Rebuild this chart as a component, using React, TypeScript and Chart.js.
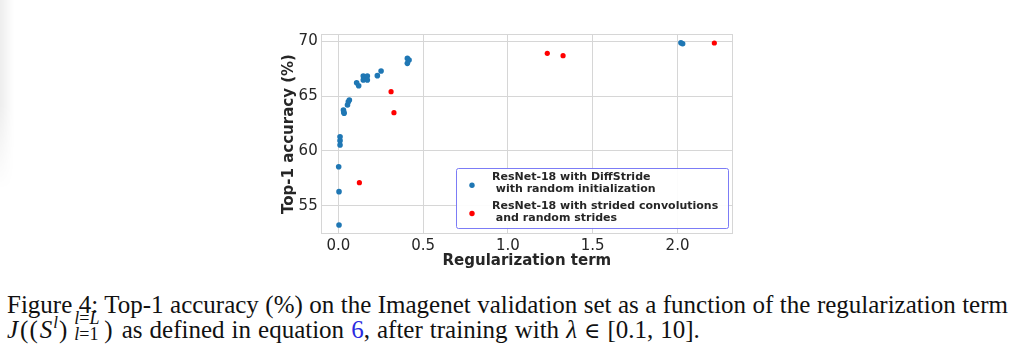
import React, { useEffect, useRef } from 'react';
import { Chart, registerables } from 'chart.js';

Chart.register(...registerables);

const blueX = [0.004, 0.004, 0.002, 0.01, 0.01, 0.01, 0.03, 0.034, 0.032, 0.054, 0.059, 0.065, 0.108, 0.12, 0.147, 0.147, 0.159, 0.171, 0.171, 0.23, 0.252, 0.407, 0.417, 0.407, 2.02, 2.03];
const blueY = [53.27, 56.3, 58.57, 61.3, 60.94, 60.55, 63.73, 63.43, 63.55, 64.18, 64.48, 64.64, 66.2, 65.94, 66.82, 66.45, 66.62, 66.82, 66.45, 66.85, 67.27, 68.42, 68.27, 67.97, 69.85, 69.75];
const redX = [0.124, 0.311, 0.328, 1.232, 1.325, 2.217];
const redY = [57.12, 65.39, 63.48, 68.88, 68.67, 69.82];

const xTicks = [0, 0.5, 1.0, 1.5, 2.0];
const yTicks = [55, 60, 65, 70];
const xTitle = 'Regularization term';
const yTitle = 'Top-1 accuracy (%)';
const seriesLabels = [
  ['ResNet-18 with DiffStride', ' with random initialization'],
  ['ResNet-18 with strided convolutions', ' and random strides'],
];
const seriesColors = ['#1f77b4', '#ff0000'];

const TEXT = '#262626';
const GRID = '#d6d6d6';

const framePlugin = {
  id: 'frame',
  beforeDatasetsDraw(chart: any) {
    const { ctx, chartArea } = chart;
    ctx.save();
    ctx.strokeStyle = GRID;
    ctx.lineWidth = 1;
    const l = Math.round(chartArea.left) + 0.5;
    const t = Math.round(chartArea.top) + 0.5;
    const r = Math.round(chartArea.right) - 0.5;
    const b = Math.round(chartArea.bottom) - 0.5;
    ctx.strokeRect(l, t, r - l, b - t);
    ctx.restore();
  },
};

const legendPlugin = {
  id: 'boxLegend',
  afterDatasetsDraw(chart: any) {
    const { ctx, chartArea } = chart;
    const w = 272;
    const h = 60;
    const x = Math.round(chartArea.right - 5.5 - w) + 0.5;
    const y = Math.round(chartArea.bottom - 6 - h) + 0.5;
    ctx.save();
    ctx.beginPath();
    const rr = 2;
    ctx.moveTo(x + rr, y);
    ctx.lineTo(x + w - rr, y);
    ctx.arcTo(x + w, y, x + w, y + rr, rr);
    ctx.lineTo(x + w, y + h - rr);
    ctx.arcTo(x + w, y + h, x + w - rr, y + h, rr);
    ctx.lineTo(x + rr, y + h);
    ctx.arcTo(x, y + h, x, y + h - rr, rr);
    ctx.lineTo(x, y + rr);
    ctx.arcTo(x, y, x + rr, y, rr);
    ctx.closePath();
    ctx.fillStyle = 'rgba(255,255,255,0.92)';
    ctx.fill();
    ctx.strokeStyle = 'rgba(110,110,245,0.9)';
    ctx.lineWidth = 1;
    ctx.stroke();

    ctx.font = 'bold 11px "DejaVu Sans"';
    ctx.textBaseline = 'middle';
    ctx.fillStyle = TEXT;
    const lineOffsets = [[8.4, 21], [37.7, 50]];
    const markerOffsets = [16.7, 45];
    seriesLabels.forEach((lines, i) => {
      ctx.fillStyle = seriesColors[i];
      ctx.beginPath();
      ctx.arc(x + 15.5, y + markerOffsets[i], 2.7, 0, Math.PI * 2);
      ctx.fill();
      ctx.fillStyle = TEXT;
      lines.forEach((t, j) => {
        ctx.fillText(t, x + 35.5, y + lineOffsets[i][j]);
      });
    });
    ctx.restore();
  },
};

function ScatterChart() {
  const ref = useRef<HTMLCanvasElement | null>(null);
  useEffect(() => {
    if (!ref.current) return;
    const chart = new Chart(ref.current, {
      type: 'scatter',
      data: {
        datasets: [
          {
            label: seriesLabels[0].join(''),
            data: blueX.map((x, i) => ({ x, y: blueY[i] })),
            backgroundColor: seriesColors[0],
            borderWidth: 0,
            pointRadius: 2.8,
            order: 2,
          },
          {
            label: seriesLabels[1].join(''),
            data: redX.map((x, i) => ({ x, y: redY[i] })),
            backgroundColor: seriesColors[1],
            borderWidth: 0,
            pointRadius: 2.6,
            order: 1,
          },
        ],
      },
      options: {
        animation: false,
        responsive: true,
        maintainAspectRatio: false,
        layout: { padding: { left: 0, right: 17, top: 14, bottom: 0 } },
        plugins: {
          legend: { display: false },
          tooltip: { enabled: false },
        },
        scales: {
          x: {
            type: 'linear',
            min: -0.104,
            max: 2.327,
            afterBuildTicks: (s: any) => {
              s.ticks = xTicks.map((v) => ({ value: v }));
            },
            afterFit: (s: any) => {
              s.height = 48;
            },
            grid: { color: GRID, lineWidth: 1, drawTicks: false },
            border: { display: false },
            ticks: {
              padding: 3.5,
              color: TEXT,
              font: { family: 'DejaVu Sans', size: 15 },
              callback: (v: any) => Number(v).toFixed(1),
              maxRotation: 0,
            },
            title: {
              display: true,
              text: xTitle,
              color: TEXT,
              font: { family: 'DejaVu Sans', size: 15, weight: 'bold' },
              padding: { top: 0, bottom: 12.3 },
            },
          },
          y: {
            type: 'linear',
            min: 52.45,
            max: 70.64,
            afterBuildTicks: (s: any) => {
              s.ticks = yTicks.map((v) => ({ value: v }));
            },
            afterFit: (s: any) => {
              s.width = 70.7;
            },
            grid: { color: GRID, lineWidth: 1, drawTicks: false },
            border: { display: false },
            ticks: {
              padding: 3,
              color: TEXT,
              font: { family: 'DejaVu Sans', size: 15 },
              callback: (v: any) => String(v),
            },
            title: {
              display: true,
              text: yTitle,
              color: TEXT,
              font: { family: 'DejaVu Sans', size: 15, weight: 'bold' },
              padding: { top: 30, bottom: 0 },
            },
          },
        },
      },
      plugins: [framePlugin, legendPlugin],
    });
    return () => chart.destroy();
  }, []);
  return <canvas ref={ref} />;
}

const serif = '"Liberation Serif", "Times New Roman", serif';

export default function App() {
  const it = { fontStyle: 'italic' as const };
  const script = { fontSize: 18, lineHeight: '18px' };
  return (
    <div style={{ position: 'absolute', left: 0, top: 0, width: 1024, height: 357, background: '#fff', overflow: 'hidden' }}>
      <div
        style={{
          position: 'absolute', left: 0, top: 0, width: 14, height: 190,
          background: 'linear-gradient(to right, rgba(0,0,0,0.07), rgba(0,0,0,0))',
          WebkitMaskImage: 'linear-gradient(to bottom, black 55%, transparent)',
          maskImage: 'linear-gradient(to bottom, black 55%, transparent)',
        }}
      />
      <div style={{ position: 'absolute', left: 250, top: 20, width: 500, height: 262 }}>
        <ScatterChart />
      </div>
      <div
        style={{
          position: 'absolute', left: 7, top: 292, width: 1001, fontFamily: serif, fontSize: 25,
          lineHeight: '25px', whiteSpace: 'nowrap', color: '#111',
          textAlign: 'justify', textAlignLast: 'justify' as any,
        }}
      >
        Figure 4: Top-1 accuracy (%) on the Imagenet validation set as a function of the regularization term
      </div>
      <div
        style={{
          position: 'absolute', left: 7, top: 317, fontFamily: serif, fontSize: 25,
          lineHeight: '25px', whiteSpace: 'nowrap', color: '#111',
        }}
      >
        <span style={it}>J</span>
        <span style={{ marginLeft: 2 }}>(</span>
        <span style={{ marginLeft: 1 }}>(</span>
        <span style={{ ...it, marginLeft: 2 }}>S</span>
        <span style={{ position: 'relative', top: -10, fontSize: 17, marginLeft: 1, ...it }}>l</span>
        <span style={{ marginLeft: 1 }}>)</span>
        <span style={{ position: 'relative', display: 'inline-block', width: 30, height: 10, marginLeft: 7 }}>
          <span style={{ ...script, position: 'absolute', left: 0, top: -19 }}>
            <span style={it}>l</span>=<span style={it}>L</span>
          </span>
          <span style={{ ...script, position: 'absolute', left: 0, top: -3 }}>
            <span style={it}>l</span>=1
          </span>
        </span>
        <span>)</span>
        <span style={{ marginLeft: 9, wordSpacing: 0.8 }}>
          as defined in equation <span style={{ color: '#2a2ae0' }}>6</span>, after training with{' '}
          <span style={it}>λ</span>{' '}
          <span style={{ fontFamily: '"DejaVu Serif", serif', fontSize: 22 }}>∈</span> [0.1, 10].
        </span>
      </div>
    </div>
  );
}
